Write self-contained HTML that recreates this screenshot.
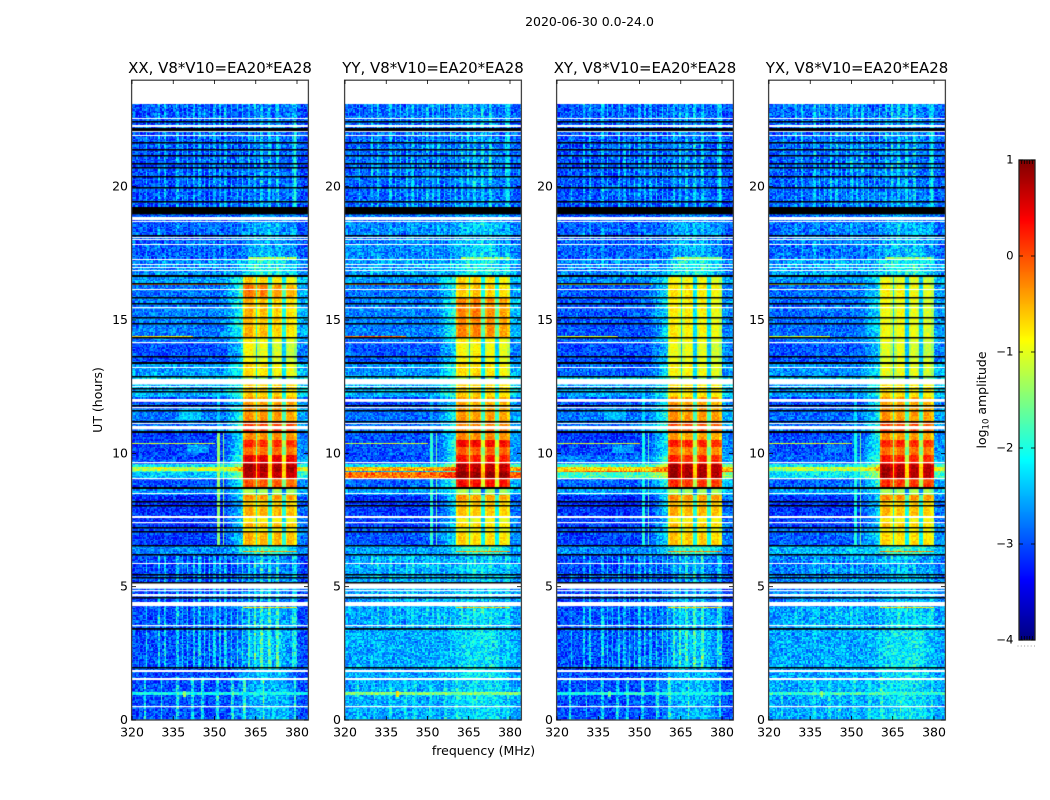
<!DOCTYPE html>
<html>
<head>
<meta charset="utf-8">
<title>2020-06-30 dynamic spectra</title>
<style>
html,body{margin:0;padding:0;background:#fff;}
#figure{position:relative;width:1050px;height:800px;overflow:hidden;background:#fff;}
#figure canvas{position:absolute;display:block;}
#overlay{position:absolute;left:0;top:0;width:1050px;height:800px;}
#overlay text{font-family:"DejaVu Sans","Liberation Sans",sans-serif;fill:#000;}
</style>
</head>
<body>
<div id="figure">
<svg id="overlay" xmlns="http://www.w3.org/2000/svg" width="1050" height="800"></svg>
</div>
<script>
/* Values are estimated by eye from the picture, as coarse bands.
   The per-pixel grain (speckleTable) is a stylised texture, not read from the image. */
const panelTitles = ["XX, V8*V10=EA20*EA28","YY, V8*V10=EA20*EA28","XY, V8*V10=EA20*EA28","YX, V8*V10=EA20*EA28"];
const xTicks = [320,335,350,365,380];
const yTicks = [0,5,10,15,20];
const colorbarTicks = [1,0,-1,-2,-3,-4];
const freqMin = 320, freqMax = 384, hourMin = 0, hourMax = 24, dataEndHour = 23.1;
const colorMin = -4, colorMax = 1;
const channelWidthMHz = 0.5, rowHours = 0.05;

/* Time bands: start hour, then log10 amplitude per polarisation [XX,YY,XY,YX] */
const bandStartHours = [0,3.41,4.27,6.22,6.54,7.05,7.22,7.42,7.65,7.99,8.25,8.47,8.70,9.04,9.30,9.34,9.50,9.60,9.97,10.24,10.50,10.80,11.21,11.70,12.11,12.79,12.86,13.39,14.17,14.36,15.86,16.31,16.65,17.32,18.67,19.25];
const backgroundLevels = [
[-3.0,-2.55,-3.0,-2.55],[-3.0,-2.6,-3.0,-2.6],[-3.05,-2.6,-3.05,-2.75],[-2.7,-2.6,-2.7,-2.45],
[-3.1,-2.95,-3.05,-2.9],[-3.1,-2.95,-3.05,-2.9],[-3.15,-3.05,-3.1,-3.05],[-3.15,-3.05,-3.1,-3.05],
[-3.15,-3.1,-3.15,-3.1],[-3.2,-3.15,-3.2,-3.15],[-3.2,-3.15,-3.2,-3.15],[-2.7,-2.6,-2.6,-2.6],
[-3.0,-2.9,-2.9,-2.9],[-2.4,-0.2,-1.8,-2.2],[-1.9,-2.6,-0.2,-2.0],[-1.15,-0.5,-0.7,-1.2],
[-2.2,-2.2,-1.9,-2.2],[-3.0,-3.0,-2.8,-2.9],[-3.1,-3.0,-3.05,-3.0],[-3.1,-3.0,-3.1,-3.0],[-3.1,-3.0,-3.1,-3.0],
[-2.8,-2.85,-2.8,-2.85],[-2.8,-2.85,-2.8,-2.85],[-3.0,-3.0,-2.95,-3.0],[-2.5,-2.5,-2.6,-2.6],
[-2.3,-2.3,-2.3,-2.3],[-2.6,-2.65,-2.9,-2.7],[-3.0,-2.95,-3.0,-2.95],[-2.8,-2.8,-2.85,-2.8],
[-2.75,-2.75,-2.95,-2.85],[-2.8,-2.8,-2.95,-2.85],[-2.6,-2.6,-2.7,-2.65],[-2.75,-2.6,-2.75,-2.6],
[-2.95,-2.75,-2.95,-2.85],[-2.95,-2.8,-2.95,-2.85],[-3.0,-2.9,-3.0,-2.9]
];
const blockLevels = [
[-2.45,-2.25,-2.45,-2.2],[-2.5,-2.35,-2.5,-2.35],[-2.7,-2.45,-2.7,-2.5],[-1.9,-1.9,-1.9,-1.9],
[-0.5,-0.7,-0.6,-0.7],[-0.9,-0.95,-0.9,-0.9],[-0.55,-0.7,-0.6,-0.65],[-0.85,-0.9,-0.85,-0.85],
[-0.5,-0.6,-0.5,-0.55],[-0.65,-0.6,-0.55,-0.6],[-0.35,-0.35,-0.3,-0.3],[-1.3,-1.3,-1.3,-1.3],
[-0.05,0.35,0.15,0.15],[0.7,0.95,0.85,0.8],[0.8,0.8,0.8,0.75],[0.85,0.75,0.8,0.8],
[0.8,0.75,0.75,0.7],[0.5,0.3,0.2,0.25],[-0.15,-0.05,-0.2,-0.15],[0.2,0.4,0.25,0.2],[-0.3,-0.3,-0.4,-0.35],
[0.1,-0.25,0.0,0.0],[-0.35,-0.4,-0.35,-0.35],[-0.4,-0.45,-0.4,-0.4],[-0.65,-0.65,-0.75,-0.75],
[-1.3,-1.3,-1.3,-1.3],[-0.75,-0.7,-0.85,-0.95],[-0.95,-0.85,-0.95,-1.0],[-0.85,-0.75,-0.85,-0.95],
[-0.55,-0.25,-0.8,-0.9],[-0.25,-0.6,-0.75,-0.85],[-0.7,-0.7,-0.85,-0.95],[-2.15,-2.15,-2.15,-2.15],
[-2.6,-2.45,-2.6,-2.5],[-2.65,-2.55,-2.65,-2.6],[-2.85,-2.75,-2.85,-2.75]
];
/* The four bright sub-bands, MHz */
const subbandStart = [360.5,365.7,370.8,375.8];
const subbandEnd = [364.8,369.6,374.6,379.8];
const subbandOffsetLate = [[0.1,0,-0.1,-0.2],[0,0.03,-0.05,-0.15],[0,0,-0.05,-0.15],[0,0,-0.05,-0.15]];
const subbandOffsetEarly = [[0.05,0,0,-0.05],[0.05,0,0,-0.05],[0.05,0,0,-0.05],[0.05,0,0,-0.05]];

/* Flagged rows, hours */
const whiteFlags = [[0.47,0.52],[1.48,1.56],[1.78,1.86],[3.50,3.55],[4.25,4.41],[4.62,4.71],[4.83,4.88],[4.91,5.13],[5.85,5.89],[7.39,7.44],[7.57,7.65],[8.47,8.51],[9.04,9.09],[9.64,9.69],[10.90,11.03],[11.08,11.12],[11.68,11.73],[11.91,12.02],[12.49,12.53],[12.56,12.77],[13.19,13.23],[14.14,14.19],[15.44,15.49],[16.13,16.17],[16.85,16.89],[16.94,16.98],[17.07,17.11],[17.23,17.27],[17.82,17.86],[17.98,18.02],[18.08,18.12],[18.69,18.73],[18.75,18.87],[21.89,21.93],[22.04,22.08],[22.23,22.31],[22.53,22.57]];
const blackFlags = [[1.93,1.99],[3.37,3.44],[4.56,4.62],[5.13,5.19],[5.29,5.35],[5.43,5.49],[6.18,6.24],[6.51,6.57],[7.01,7.07],[7.19,7.25],[7.99,8.05],[8.16,8.22],[8.65,8.73],[10.77,10.85],[11.15,11.21],[11.57,11.63],[11.76,11.82],[12.28,12.34],[12.40,12.46],[12.83,12.89],[13.33,13.41],[13.58,13.64],[14.32,14.38],[14.84,14.90],[15.07,15.13],[15.59,15.65],[15.82,15.88],[16.33,16.39],[16.60,16.68],[18.12,18.18],[18.97,19.25],[19.40,19.46],[19.93,19.99],[20.34,20.40],[20.66,20.72],[20.84,20.90],[21.14,21.20],[21.34,21.40],[21.63,21.69],[22.08,22.20],[22.40,22.46]];

/* Narrow-band interference combs, MHz */
const combEarly = [324.8,330.7,336.5,342,345.5,351,356.5,361,367.6,379.2];
const combLate = [325.4,329.8,332,336.5,338.4,340.3,342.5,344.5,346.2,348.2,350,352,354,356.3,358.4,360.4,362.5,364.8,367,370,373,378.5,379.5];
const combZoneFrom = [0,1.9,3.41,16.65,19.25];
const combZoneTo = [1.6,3.41,6.22,18.67,23.1];
const combZoneUsesEarly = [true,false,false,false,false];
const combZoneBoost = [[0.95,0.4,0.85,0.4],[0.85,0.1,0.8,0.1],[0.75,0.4,0.7,0.35],[0.3,0.3,0.3,0.3],[0.6,0.6,0.6,0.6]];
/* Persistent vertical features: [fLow,fHigh,hFrom,hTo,[XX,YY,XY,YX]] */
const verticalFeatures = [
[351,352,6.54,10.8,[-1.4,-1.9,-2.0,-2.0]],
[352.8,353.3,6.54,10.8,[-1.4,-1.6,-1.7,-1.6]],
[351,352,10.8,12.8,[-2.3,-2.5,-2.3,-2.3]],
[339.8,340.2,10.8,16.6,[-2.9,-2.3,-2.9,-2.9]],
[378.8,379.3,19.25,22.5,[-1.9,-2.2,-2.0,-2.0]]
];
/* Persistent horizontal features: [hFrom,hTo,fLow,fHigh,[XX,YY,XY,YX]] */
const horizontalFeatures = [
[16.29,16.33,320,355,[-0.3,-0.4,-0.9,-1.0]],
[14.34,14.39,320,342,[-0.7,-0.1,-1.1,-1.1]],
[10.37,10.42,320,350,[-1.1,-1.1,-1.0,-1.0]],
[0.96,1.04,320,384,[-2.0,-1.45,-2.0,-1.8]],
[0.85,1.1,338.6,339.4,[-1.5,-0.7,-1.6,-1.6]],
[6.30,6.36,360.5,379.8,[-0.3,-0.3,-0.3,-0.3]],
[4.18,4.24,360.5,379.8,[-0.7,-0.6,-0.7,-0.7]],
[17.30,17.35,362,379.8,[-1.4,-1.5,-1.4,-1.5]],
[11.25,11.65,337,345,[-2.35,-2.9,-2.45,-2.9]],
[10.0,10.3,340,348,[-2.55,-2.9,-2.6,-2.8]]
];
/* Hand-written grain table (decorative texture) */
const speckleTable = [0.31,-0.72,0.05,0.88,-0.41,-0.13,0.62,-0.95,0.27,0.44,-0.58,0.11,-0.26,0.93,-0.67,0.18,-0.04,0.51,-0.83,0.36,
0.72,-0.31,-0.49,0.09,0.66,-0.77,0.22,-0.15,1.0,-0.53,0.4,-0.9,0.14,0.58,-0.22,-0.64,0.83,-0.08,0.29,-0.36,
0.47,-0.99,0.03,0.76,-0.45,0.2,-0.7,0.55,0.12,-0.28,0.95,-0.6,-0.1,0.34,-0.81,0.69,-0.19,0.42,-0.5,0.07,
-0.87,0.6,0.25,-0.33,0.8,-0.56,0.16,-0.02,0.49,-0.74,0.38,-0.17,0.9,-0.43,0.01,-0.62,0.53,0.24,-0.92,0.71,
-0.3,0.1,-0.47,0.85,-0.12,0.33,-0.68,0.57,-0.24,0.15,-0.79,0.64,0.06,-0.38,0.97,-0.54,0.21];

const axesLeft = [132,345,557,769];
const axesWidth = 176, axesTop = 80, axesHeight = 640;
const figure = document.getElementById('figure');
const svg = document.getElementById('overlay');
const NS = 'http://www.w3.org/2000/svg';

function xScale(f){ return (f-freqMin)*axesWidth/(freqMax-freqMin); }
function yScale(h){ return (hourMax-h)*axesHeight/(hourMax-hourMin); }
function clamp01(v){ return v<0?0:(v>1?1:v); }
function jet(t){
  t=clamp01(t);
  const r=clamp01(Math.min(4*t-1.5,-4*t+4.5));
  const g=clamp01(Math.min(4*t-0.5,-4*t+3.5));
  const b=clamp01(Math.min(4*t+0.5,-4*t+2.5));
  return [Math.round(r*255),Math.round(g*255),Math.round(b*255)];
}
function colorOf(v){
  const c=jet((v-colorMin)/(colorMax-colorMin));
  return 'rgb('+c[0]+','+c[1]+','+c[2]+')';
}
function bandIndex(h){
  let s=0;
  for(let i=0;i<bandStartHours.length;i++){ if(h>=bandStartHours[i]) s=i; }
  return s;
}
function speckle(c,r,p){
  const k=(c*c*3+r*r*5+c*r*7+p*11+c*13+r*17)%speckleTable.length;
  return speckleTable[k];
}
function nearComb(f,list){
  for(let i=0;i<list.length;i++){ if(Math.abs(f-list[i])<=channelWidthMHz/2) return true; }
  return false;
}
function softTaper(f){
  if(f<355||f>381) return 0;
  if(f<365) return (f-355)/10;
  if(f>375) return (381-f)/6;
  return 1;
}
function cellValue(p,f,h,c,r){
  const s=bandIndex(h);
  const bg=backgroundLevels[s][p], bl=blockLevels[s][p];
  const active=bl>-1.6;
  let v=bg, grain=0.48;
  if(!active){
    v=bg+(bl-bg)*softTaper(f);
    grain=0.52;
  }else if(f>=subbandStart[0]&&f<=subbandEnd[3]){
    let sub=-1;
    for(let i=0;i<4;i++){ if(f>=subbandStart[i]&&f<=subbandEnd[i]) sub=i; }
    if(sub<0){ v=bl-1.45; grain=0.15; }
    else{
      const off=(h>12.8?subbandOffsetLate:subbandOffsetEarly)[p][sub];
      v=bl+off; grain=0.2;
      if(f-subbandStart[sub]<0.7||subbandEnd[sub]-f<0.7) v-=0.25;
    }
  }else if(f>353&&f<subbandStart[0]){
    v=bg+(f-353)/(subbandStart[0]-353)*0.35*(bl-bg);
  }else if(f>subbandEnd[3]){
    v=bg+0.12*(bl-bg);
  }
  v+=speckle(c,r,p)*grain;
  for(let z=0;z<combZoneFrom.length;z++){
    if(h>=combZoneFrom[z]&&h<combZoneTo[z]){
      const list=combZoneUsesEarly[z]?combEarly:combLate;
      if(nearComb(f,list)) v+=combZoneBoost[z][p]*(0.85+0.35*speckle(r,c,p));
    }
  }
  for(let i=0;i<verticalFeatures.length;i++){
    const q=verticalFeatures[i];
    if(f>=q[0]&&f<=q[1]&&h>=q[2]&&h<q[3]) v=Math.max(v,q[4][p]+0.2*speckle(c,r,p));
  }
  for(let i=0;i<horizontalFeatures.length;i++){
    const q=horizontalFeatures[i];
    if(h>=q[0]&&h<q[1]&&f>=q[2]&&f<=q[3]) v=Math.max(v,q[4][p]+0.35*speckle(c,r,p));
  }
  return v;
}
function drawPanel(p){
  const cv=document.createElement('canvas');
  
  
  cv.width=axesWidth; cv.height=axesHeight;
  cv.style.left=axesLeft[p]+'px'; cv.style.top=axesTop+'px';
  cv.style.width=axesWidth+'px'; cv.style.height=axesHeight+'px';
  figure.insertBefore(cv,svg);
  const ctx=cv.getContext('2d');
  ctx.fillStyle='#fff'; ctx.fillRect(0,0,axesWidth,axesHeight);
  const nCols=Math.round((freqMax-freqMin)/channelWidthMHz);
  const nRows=Math.round(dataEndHour/rowHours);
  for(let r=0;r<nRows;r++){
    const h0=r*rowHours, h1=h0+rowHours;
    const yTop=Math.round(yScale(h1)), yBot=Math.round(yScale(h0));
    if(yBot<=yTop) continue;
    for(let c=0;c<nCols;c++){
      const f0=freqMin+c*channelWidthMHz;
      const xa=Math.round(xScale(f0)), xb=Math.round(xScale(f0+channelWidthMHz));
      if(xb<=xa) continue;
      ctx.fillStyle=colorOf(cellValue(p,f0+channelWidthMHz/2,h0+rowHours/2,c,r));
      ctx.fillRect(xa,yTop,xb-xa,yBot-yTop);
    }
  }
  function flagRows(list,color){
    ctx.fillStyle=color;
    for(let i=0;i<list.length;i++){
      const a=yScale(list[i][1]), b=yScale(list[i][0]);
      ctx.fillRect(0,Math.round(a),axesWidth,Math.max(1,b-a-0.1));
    }
  }
  flagRows(whiteFlags,'#fff');
  flagRows(blackFlags,'#000');
}
function addLine(parent,x1,y1,x2,y2,name,stroke,width){
  const el=document.createElementNS(NS,'line');
  el.setAttribute('x1',x1); el.setAttribute('y1',y1);
  el.setAttribute('x2',x2); el.setAttribute('y2',y2);
  el.setAttribute('stroke',stroke); el.setAttribute('stroke-width',width);
  
  
  parent.appendChild(el);
  return el;
}
function addText(parent,x,y,str,size,anchor,name){
  const el=document.createElementNS(NS,'text');
  el.setAttribute('x',x); el.setAttribute('y',y);
  el.setAttribute('font-size',size); el.setAttribute('text-anchor',anchor);
  el.textContent=str;
  
  
  parent.appendChild(el);
  return el;
}
function drawAxes(p){
  const g=document.createElementNS(NS,'g');
  
  
  svg.appendChild(g);
  const L=axesLeft[p], T=axesTop;
  const frame=document.createElementNS(NS,'rect');
  frame.setAttribute('x',L-0.4); frame.setAttribute('y',T+0.2);
  frame.setAttribute('width',axesWidth+0.8); frame.setAttribute('height',axesHeight-0.2);
  frame.setAttribute('fill','none'); frame.setAttribute('stroke','#444'); frame.setAttribute('stroke-width','1.3');
  
  
  g.appendChild(frame);
  xTicks.forEach(function(v){
    const x=L+xScale(v);
    addLine(g,x,T,x,T+4,'x-tick-top','#000',0.8);
    addLine(g,x,T+axesHeight,x,T+axesHeight-4,'x-tick-bottom','#000',0.8);
    addText(g,x,736.5,String(v),12.5,'middle','x-tick-label');
  });
  yTicks.forEach(function(v){
    const y=T+yScale(v);
    addLine(g,L,y,L+4,y,'y-tick-left','#000',0.8);
    addLine(g,L+axesWidth,y,L+axesWidth-4,y,'y-tick-right','#000',0.8);
    addText(g,L-4,y+4,String(v),12.5,'end','y-tick-label');
  });
  addText(g,L+axesWidth/2,73,panelTitles[p],14.95,'middle','panel-title');
}
function drawColorbar(){
  const barLeft=1019, barTop=160, barW=16, barH=480;
  const barY=function(v){ return (colorMax-v)*barH/(colorMax-colorMin); };
  const cv=document.createElement('canvas');
  
  
  cv.width=barW; cv.height=barH;
  cv.style.left=barLeft+'px'; cv.style.top=barTop+'px';
  figure.insertBefore(cv,svg);
  const ctx=cv.getContext('2d');
  for(let i=0;i<barH;i++){
    ctx.fillStyle=colorOf(colorMax-(i+0.5)*(colorMax-colorMin)/barH);
    ctx.fillRect(0,i,barW,1);
  }
  const g=document.createElementNS(NS,'g');
  
  
  svg.appendChild(g);
  const frame=document.createElementNS(NS,'rect');
  frame.setAttribute('x',barLeft); frame.setAttribute('y',barTop);
  frame.setAttribute('width',barW); frame.setAttribute('height',barH);
  frame.setAttribute('fill','none'); frame.setAttribute('stroke','#222'); frame.setAttribute('stroke-width','1.3');
  
  
  g.appendChild(frame);
  colorbarTicks.forEach(function(v){
    const y=barTop+barY(v);
    addLine(g,barLeft,y,barLeft+4,y,'colorbar-tick-left','#000',0.8);
    addLine(g,barLeft+barW,y,barLeft+barW-4,y,'colorbar-tick-right','#000',0.8);
    addText(g,1013.5,y+3.5,String(v).replace('-','\u2212'),11.7,'end','colorbar-tick-label');
  });
  for(let i=1;i<6;i++){
    const x=barLeft+i*barW/6;
    addLine(g,x,barTop,x,barTop+4,'colorbar-edge-tick','#000',0.8);
    addLine(g,x,barTop+barH,x,barTop+barH-4,'colorbar-edge-tick','#000',0.8);
  }
  for(let i=0;i<6;i++){
    const d=document.createElementNS(NS,'rect');
    d.setAttribute('x',barLeft-1.5+i*3.3); d.setAttribute('y',645.5);
    d.setAttribute('width',1); d.setAttribute('height',1); d.setAttribute('fill','#999');
    
    
    g.appendChild(d);
  }
  const label=document.createElementNS(NS,'text');
  label.setAttribute('transform','translate(986,400) rotate(-90)');
  label.setAttribute('text-anchor','middle');
  label.setAttribute('font-size','12.5');
  
  
  const t1=document.createElementNS(NS,'tspan'); t1.textContent='log';
  const t2=document.createElementNS(NS,'tspan'); t2.textContent='10';
  t2.setAttribute('font-size','8.5'); t2.setAttribute('dy','2.5');
  const t3=document.createElementNS(NS,'tspan'); t3.textContent=' amplitude';
  t3.setAttribute('dy','-2.5');
  label.appendChild(t1); label.appendChild(t2); label.appendChild(t3);
  g.appendChild(label);
}
for(let p=0;p<4;p++){ drawPanel(p); drawAxes(p); }
drawColorbar();
addText(svg,589.5,26,'2020-06-30 0.0-24.0',12.5,'middle','figure-title');
addText(svg,483.5,755,'frequency (MHz)',12.5,'middle','x-axis-title');
const yTitle=addText(svg,0,0,'UT (hours)',12.5,'middle','y-axis-title');
yTitle.setAttribute('transform','translate(102,400) rotate(-90)');
</script>
</body>
</html>
